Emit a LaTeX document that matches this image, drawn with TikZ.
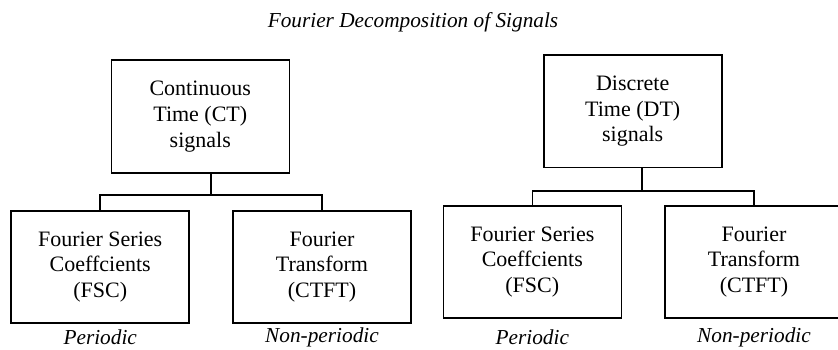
\documentclass[tikz,border=0pt]{standalone}
\usepackage{fontspec}
\setmainfont{Liberation Serif}
\begin{document}
\begin{tikzpicture}[x=1pt,y=-1pt,
  block/.style={draw, line width=1.6pt, inner sep=0pt, align=center,
    minimum width=178pt, minimum height=112.5pt,
    font=\fontsize{22}{25.7}\selectfont},
  link/.style={line width=1.6pt},
  caption/.style={font=\fontsize{21.3}{24}\selectfont\itshape, inner sep=0pt}]
\useasboundingbox (0,0) rectangle (838,350);
\clip (0,0) rectangle (838,350);

% title
\node[caption] (title) at (413,22) {Fourier Decomposition of Signals};

% continuous-time branch
\node[block] (ct)  at (200.3,116.5) {Continuous\\Time (CT)\\signals};
\node[block] (ctfs) at (100.2,267)  {Fourier Series\\Coeffcients\\(FSC)};
\node[block] (ctft) at (322,267)    {Fourier\\Transform\\(CTFT)};
\coordinate (ctj) at (211,195);
\draw[link] (ct.south -| ctj) -- (ctj);
\draw[link] (ctfs.north) |- (ctj) -| (ctft.north);
\node[caption] (ctp)  at (100.2,337) {Periodic};
\node[caption] (ctnp) at (322,337)   {Non-periodic};

% discrete-time branch
\node[block] (dt)  at (632.7,111.2) {Discrete\\Time (DT)\\signals};
\node[block] (dtfs) at (532.3,262)  {Fourier Series\\Coeffcients\\(FSC)};
\node[block] (dtft) at (754,262)    {Fourier\\Transform\\(CTFT)};
\coordinate (dtj) at (642,191);
\draw[link] (dt.south -| dtj) -- (dtj);
\draw[link] (dtfs.north) |- (dtj) -| (dtft.north);
\node[caption] (dtp)  at (532.3,337) {Periodic};
\node[caption] (dtnp) at (754,337)   {Non-periodic};
\end{tikzpicture}
\end{document}
